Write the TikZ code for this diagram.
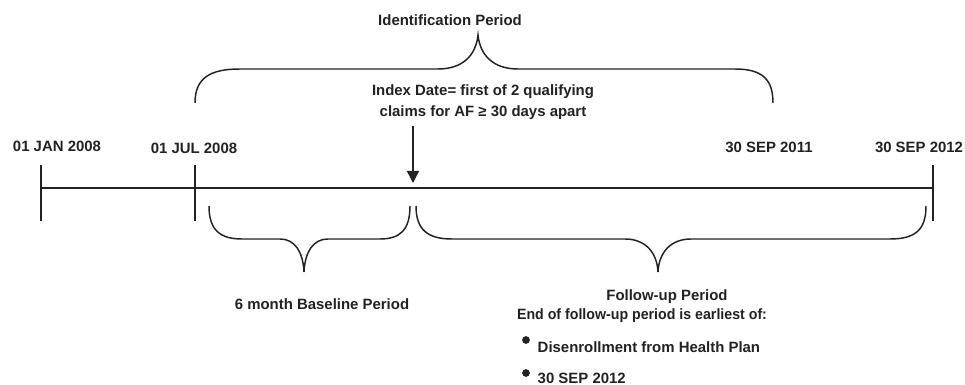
\documentclass[tikz,border=0pt]{standalone}
\usepackage{fontspec}
\setmainfont{Liberation Sans}
\usetikzlibrary{arrows.meta}
\definecolor{ink}{HTML}{222222}
\begin{document}
\begin{tikzpicture}[x=0.75pt,y=-0.75pt, line width=1.1pt, color=ink,
  lbl/.style={font=\bfseries\fontsize{11.2}{13}\selectfont, inner sep=0pt, text=ink, align=center},
  bul/.style={circle, fill=ink, inner sep=0pt, minimum size=5.8pt, draw=none}]
\useasboundingbox (0,0) rectangle (965,385);
% timeline
\coordinate (tl0) at (41,188);
\coordinate (tl1) at (933,188);
\draw (tl0) -- (tl1);
\draw (41,165) -- (41,221);
\draw (195,165) -- (195,221);
\draw (933,165) -- (933,221);
% date labels
\node[lbl] (d1) at (57,146) {01 JAN 2008};
\node[lbl] (d2) at (194,148) {01 JUL 2008};
\node[lbl] (d3) at (769,147) {30 SEP 2011};
\node[lbl] (d4) at (919,147) {30 SEP 2012};
% identification brace
\node[lbl] (idp) at (450,20) {Identification Period};
\draw (195,103) .. controls (195,78) and (210,69) .. (240,69) -- (438,69)
  .. controls (463,69) and (476,55) .. (478,35)
  .. controls (480,55) and (493,69) .. (518,69) -- (735,69)
  .. controls (763,69) and (773,80) .. (773,103);
% index date
\node[lbl] (idx1) at (483,92) {Index Date= first of 2 qualifying};
\node[lbl] (idx2) at (483,113) {claims for AF ≥ 30 days apart};
\coordinate (a0) at (413,126);
\coordinate (a1) at (413,183);
\draw[-{Triangle[length=9pt,width=9pt]}, fill=ink] (a0) -- (a1);
% baseline brace
\draw (209,206) .. controls (209,230) and (220,239) .. (242,239) -- (280,239)
  .. controls (295,239) and (303,252) .. (304,272)
  .. controls (305,252) and (313,239) .. (328,239) -- (380,239)
  .. controls (400,239) and (410,230) .. (410,206);
\node[lbl] (base) at (322,304) {6 month Baseline Period};
% follow-up brace
\draw (416,206) .. controls (416,230) and (428,239) .. (452,239) -- (625,239)
  .. controls (645,239) and (657,252) .. (658,272)
  .. controls (659,252) and (671,239) .. (691,239) -- (890,239)
  .. controls (915,239) and (926,230) .. (926,206);
\node[lbl] (fu) at (667,297) {Follow-up Period};
\node[lbl] (fu2) at (642,316) {\scalebox{0.95}[1]{End of follow-up period is earliest of:}};
\node[bul] (b1) at (526,340) {};
\node[lbl, anchor=west] (t1) at (537,347) {Disenrollment from Health Plan};
\node[bul] (b2) at (526,373) {};
\node[lbl, anchor=west] (t2) at (537,378) {30 SEP 2012};
\end{tikzpicture}
\end{document}
